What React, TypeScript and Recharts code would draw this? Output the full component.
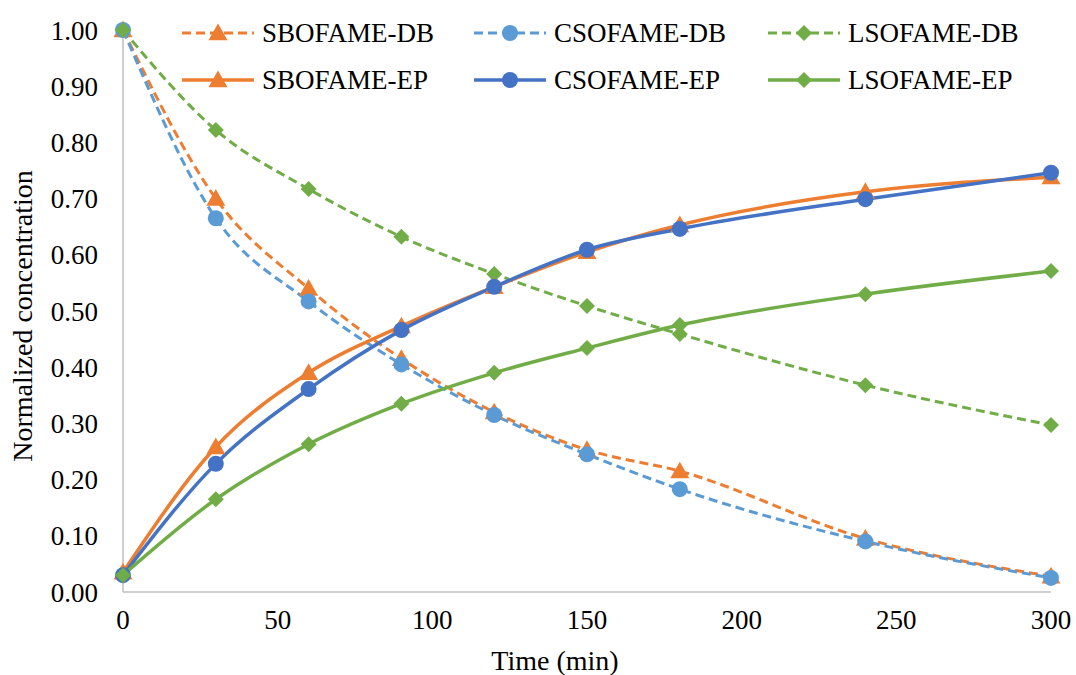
import React from 'react';
import { LineChart, Line, XAxis, YAxis } from 'recharts';

const times = [0, 30, 60, 90, 120, 150, 180, 240, 300];
const sbDB = [1.0, 0.7, 0.54, 0.415, 0.32, 0.253, 0.215, 0.095, 0.028];
const csDB = [1.0, 0.665, 0.517, 0.405, 0.315, 0.245, 0.183, 0.09, 0.025];
const lsDB = [1.0, 0.822, 0.717, 0.632, 0.566, 0.509, 0.459, 0.368, 0.297];
const sbEP = [0.035, 0.258, 0.39, 0.473, 0.543, 0.605, 0.653, 0.712, 0.738];
const csEP = [0.03, 0.228, 0.361, 0.466, 0.543, 0.609, 0.646, 0.699, 0.746];
const lsEP = [0.03, 0.165, 0.263, 0.335, 0.39, 0.434, 0.475, 0.53, 0.571];
const xTicks = [0, 50, 100, 150, 200, 250, 300];
const yTicks = [0, 0.1, 0.2, 0.3, 0.4, 0.5, 0.6, 0.7, 0.8, 0.9, 1.0];

const ORANGE = '#ED7D31';
const LBLUE = '#5B9BD5';
const DBLUE = '#4472C4';
const GREEN = '#70AD47';
const FONT = "'Liberation Serif', 'DejaVu Serif'";

const data = times.map((t, i) => ({
  t,
  sbDB: sbDB[i],
  csDB: csDB[i],
  lsDB: lsDB[i],
  sbEP: sbEP[i],
  csEP: csEP[i],
  lsEP: lsEP[i],
}));

type Shape = 'triangle' | 'circle' | 'diamond';

const marker = (shape: Shape, color: string, x: number, y: number, key?: string) => {
  if (shape === 'triangle') {
    const s = 9.5;
    return (
      <polygon
        key={key}
        points={`${x},${y - s} ${x + s},${y + s * 0.75} ${x - s},${y + s * 0.75}`}
        fill={color}
      />
    );
  }
  if (shape === 'circle') {
    return <circle key={key} cx={x} cy={y} r={8} fill={color} />;
  }
  const d = 8;
  return (
    <polygon
      key={key}
      points={`${x},${y - d} ${x + d},${y} ${x},${y + d} ${x - d},${y}`}
      fill={color}
    />
  );
};

const makeDot = (shape: Shape, color: string) => (props: any) => {
  const { cx, cy, index } = props;
  if (cx == null || cy == null) return <g key={`d-${index}`} />;
  return <g key={`d-${shape}-${color}-${index}`}>{marker(shape, color, cx, cy)}</g>;
};

const series = [
  { key: 'sbDB', name: 'SBOFAME-DB', color: ORANGE, shape: 'triangle' as Shape, dashed: true },
  { key: 'csDB', name: 'CSOFAME-DB', color: LBLUE, shape: 'circle' as Shape, dashed: true },
  { key: 'lsDB', name: 'LSOFAME-DB', color: GREEN, shape: 'diamond' as Shape, dashed: true },
  { key: 'sbEP', name: 'SBOFAME-EP', color: ORANGE, shape: 'triangle' as Shape, dashed: false },
  { key: 'csEP', name: 'CSOFAME-EP', color: DBLUE, shape: 'circle' as Shape, dashed: false },
  { key: 'lsEP', name: 'LSOFAME-EP', color: GREEN, shape: 'diamond' as Shape, dashed: false },
];

const legendCols = [182, 474, 768];
const legendRows = [33, 80];

const LegendOverlay = () => (
  <svg width={1076} height={110} style={{ position: 'absolute', left: 0, top: 0, overflow: 'visible' }}>
    {series.map((s, i) => {
      const col = i % 3;
      const row = Math.floor(i / 3);
      const x0 = legendCols[col];
      const y = legendRows[row];
      return (
        <g key={s.key}>
          <line
            x1={x0}
            x2={x0 + 72}
            y1={y}
            y2={y}
            stroke={s.color}
            strokeWidth={s.dashed ? 3 : 3.5}
            strokeDasharray={s.dashed ? '9 5' : undefined}
          />
          {marker(s.shape, s.color, x0 + 36, y)}
          <text
            x={x0 + 80}
            y={y}
            dominantBaseline="central"
            style={{ fontFamily: FONT, fontSize: 27 }}
            fill="#000"
          >
            {s.name}
          </text>
        </g>
      );
    })}
  </svg>
);

export default function App() {
  return (
    <div style={{ position: 'absolute', left: 0, top: 0, width: 1076, height: 675, background: '#fff' }}>
      <LineChart
        width={1076}
        height={675}
        data={data}
        margin={{ top: 30, right: 25, bottom: 0, left: 0 }}
        style={{ fontFamily: FONT }}
      >
        <XAxis
          dataKey="t"
          type="number"
          domain={[0, 300]}
          ticks={xTicks}
          height={83}
          axisLine={{ stroke: '#BFBFBF', strokeWidth: 1.5 }}
          tickLine={false}
          tickSize={0}
          tickMargin={18}
          tick={{ fill: '#000', fontSize: 27, style: { fontFamily: FONT } }}
          label={{
            content: (p: any) => {
              const vb = p.viewBox;
              return (
                <text
                  x={vb.x + vb.width / 2 - 32}
                  y={vb.y + 68}
                  textAnchor="middle"
                  dominantBaseline="central"
                  style={{ fontFamily: FONT, fontSize: 28 }}
                  fill="#000"
                >
                  Time (min)
                </text>
              );
            },
          }}
        />
        <YAxis
          type="number"
          domain={[0, 1]}
          ticks={yTicks}
          width={123}
          axisLine={{ stroke: '#BFBFBF', strokeWidth: 1.5 }}
          tickLine={false}
          tickSize={0}
          tickMargin={25}
          tickFormatter={(v: number) => v.toFixed(2)}
          tick={{ fill: '#000', fontSize: 27, style: { fontFamily: FONT } }}
          label={{
            content: (p: any) => {
              const vb = p.viewBox;
              const cx = vb.x + 22;
              const cy = vb.y + vb.height / 2 + 5;
              return (
                <text
                  transform={`translate(${cx},${cy}) rotate(-90)`}
                  textAnchor="middle"
                  dominantBaseline="central"
                  style={{ fontFamily: FONT, fontSize: 28 }}
                  fill="#000"
                >
                  Normalized concentration
                </text>
              );
            },
          }}
        />
        {series.map((s) => (
          <Line
            key={s.key}
            dataKey={s.key}
            name={s.name}
            type="monotone"
            stroke={s.color}
            strokeWidth={s.dashed ? 3 : 3.5}
            strokeDasharray={s.dashed ? '9 5' : undefined}
            dot={makeDot(s.shape, s.color)}
            activeDot={false}
            isAnimationActive={false}
          />
        ))}
      </LineChart>
      <LegendOverlay />
    </div>
  );
}
